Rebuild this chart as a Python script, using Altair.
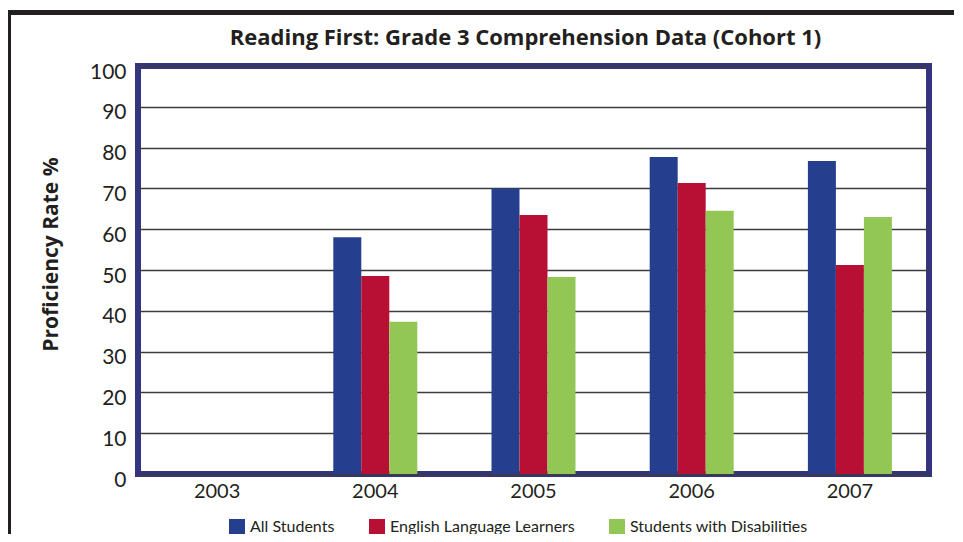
import altair as alt
import pandas as pd

years = ["2003", "2004", "2005", "2006", "2007"]
series = ["All Students", "English Language Learners", "Students with Disabilities"]
all_students = [None, 58.0, 70.0, 77.7, 76.7]
ell = [None, 48.5, 63.5, 71.3, 51.2]
swd = [None, 37.3, 48.3, 64.5, 63.0]
colors = ["#253F8E", "#B71034", "#92C755"]

rows = []
for s, vals in zip(series, [all_students, ell, swd]):
    for y, v in zip(years, vals):
        if v is not None:
            rows.append({"Year": y, "Group": s, "Value": v})
df = pd.DataFrame(rows)

FONT = "Lato"
TXT = "#231F20"

bars = alt.Chart(df).mark_bar().encode(
    x=alt.X("Year:N", scale=alt.Scale(domain=years, paddingInner=0.469, paddingOuter=0.2345),
            axis=alt.Axis(title=None, labelAngle=0, ticks=False, domain=False, grid=False,
                          labelFontSize=20, labelFont=FONT, labelColor=TXT, labelPadding=7)),
    xOffset=alt.XOffset("Group:N", scale=alt.Scale(domain=series, paddingInner=0, paddingOuter=0)),
    y=alt.Y("Value:Q", scale=alt.Scale(domain=[0, 100], nice=False),
            axis=alt.Axis(title="Proficiency Rate %", values=list(range(0, 101, 10)),
                          ticks=False, domain=False, grid=True, gridColor="#3C3C3C", gridWidth=1.5,
                          labelFontSize=21, labelFont=FONT, labelColor=TXT, labelPadding=12,
                          labelOffset=6,
                          titleFont="Open Sans", titleFontSize=21, titleFontWeight="bold",
                          titleColor=TXT,
                          titleAngle=-90, titleX=-87, titleY=188, titleAlign="center",
                          titleBaseline="middle")),
    color=alt.Color("Group:N", scale=alt.Scale(domain=series, range=colors),
                    legend=alt.Legend(title=None, orient="none", direction="horizontal",
                                      legendX=91, legendY=453, symbolType="square",
                                      symbolSize=256, symbolStrokeWidth=0, labelOffset=5,
                                      columnPadding=34, labelFont=FONT, labelFontSize=16,
                                      labelLimit=0, labelColor=TXT)),
)

frame_data = alt.Data(values=[{"k": 1}])
left_line = alt.Chart(frame_data).mark_rule(clip=False, color="#231F20", strokeWidth=5).encode(
    x=alt.value(-129.5), y=alt.value(-56), y2=alt.value(480))
top_line = alt.Chart(frame_data).mark_rule(clip=False, color="#231F20", strokeWidth=5).encode(
    x=alt.value(-132), x2=alt.value(830), y=alt.value(-53.5))

chart = alt.layer(bars, left_line, top_line).properties(
    width=791, height=408,
    title=alt.Title("Reading First: Grade 3 Comprehension Data (Cohort 1)", font="Open Sans",
                    fontSize=22, fontWeight="bold", color=TXT, anchor="middle", dx=-8,
                    baseline="alphabetic", offset=-59),
    autosize=alt.AutoSizeParams(type="none"),
    padding={"left": 130, "top": 58, "right": 25, "bottom": 60},
).configure_view(stroke="#34347F", strokeWidth=6)

chart.save("out.html", embed_options={"renderer": "svg", "actions": False})
